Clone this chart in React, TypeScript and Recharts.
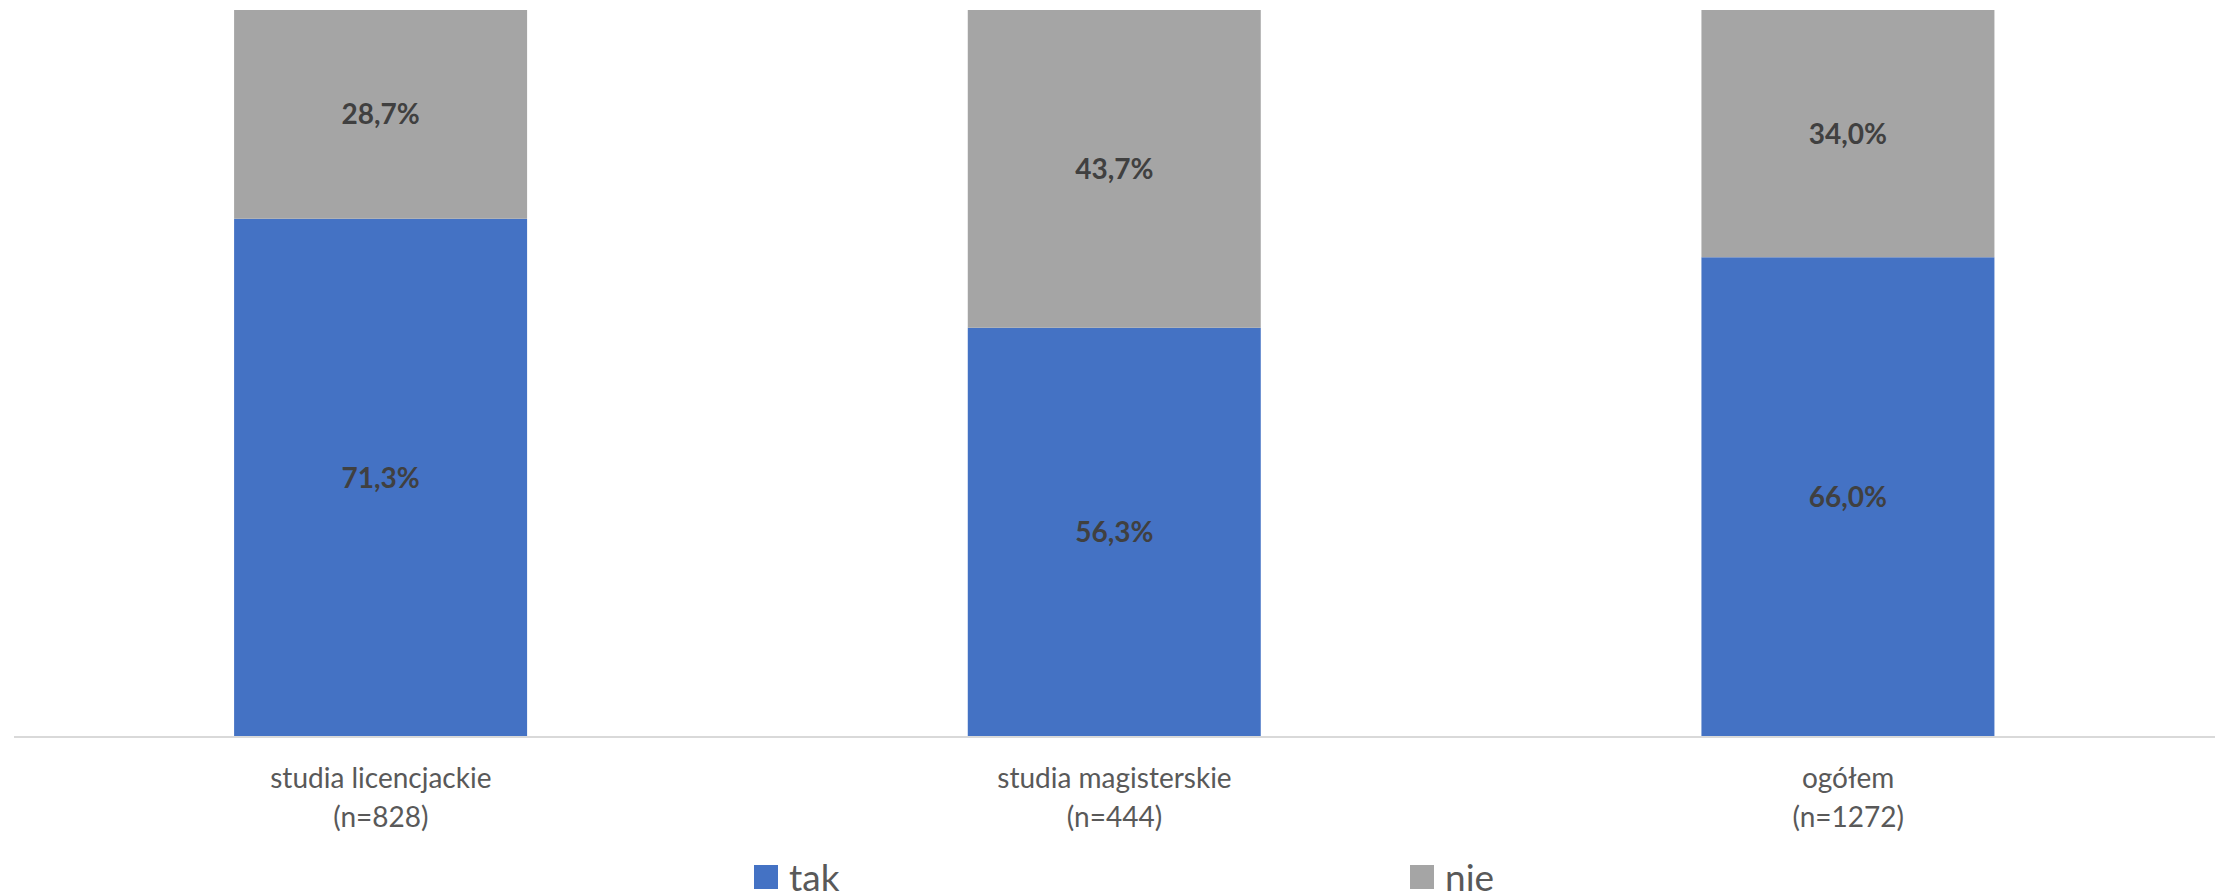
import { Bar, BarChart, LabelList, Legend, XAxis, YAxis } from "recharts";

const categories = ["studia licencjackie", "studia magisterskie", "ogółem"];
const sampleSizes = [828, 444, 1272];
const tak = [71.3, 56.3, 66.0];
const nie = [28.7, 43.7, 34.0];
const seriesOrder = ["tak", "nie"];

const data = categories.map((c, i) => ({
  name: c,
  n: sampleSizes[i],
  tak: tak[i],
  nie: nie[i],
}));

const FONT = "Lato, 'Open Sans', sans-serif";
const fmt = (v: number) => `${v.toFixed(1).replace(".", ",")}%`;

function CategoryTick({ x, y, payload, index }: any) {
  return (
    <text x={x} y={y} textAnchor="middle" fill="#595959" fontSize={28} fontFamily={FONT}>
      <tspan x={x} dy={43}>{payload.value}</tspan>
      <tspan x={x} dy={39}>{`(n=${sampleSizes[index]})`}</tspan>
    </text>
  );
}

// legenda: kolejność tak, nie (stos odwraca ją domyślnie)
function LegendContent({ payload }: any) {
  const items = [...payload].sort(
    (a: any, b: any) => seriesOrder.indexOf(a.value) - seriesOrder.indexOf(b.value)
  );
  return (
    <div style={{ display: "flex", paddingLeft: 740, height: 37, alignItems: "center" }}>
      {items.map((p: any, i: number) => (
        <div key={p.value} style={{ display: "flex", alignItems: "center", width: i === 0 ? 656 : "auto" }}>
          <span style={{ width: 24, height: 24, background: p.color, display: "inline-block", marginRight: 11 }} />
          <span style={{ fontFamily: FONT, fontSize: 37, color: "#595959", lineHeight: "37px" }}>{p.value}</span>
        </div>
      ))}
    </div>
  );
}

export default function App() {
  return (
    <div>
      <style>{`body{margin:0}`}</style>
      <BarChart
        width={2216}
        height={895}
        data={data}
        barCategoryGap="30%"
        margin={{ top: 10, right: 1, bottom: 0, left: 14 }}
      >
        <XAxis
          dataKey="name"
          axisLine={{ stroke: "#D9D9D9", strokeWidth: 2 }}
          tickLine={false}
          height={121}
          interval={0}
          tick={<CategoryTick />}
        />
        <YAxis hide domain={[0, 100]} />
        <Legend verticalAlign="bottom" content={<LegendContent />} />
        <Bar dataKey="tak" name="tak" stackId="a" fill="#4472C4" isAnimationActive={false}>
          <LabelList dataKey="tak" position="center" formatter={fmt} fill="#404040" fontSize={28} fontWeight="bold" fontFamily={FONT} />
        </Bar>
        <Bar dataKey="nie" name="nie" stackId="a" fill="#A5A5A5" isAnimationActive={false}>
          <LabelList dataKey="nie" position="center" formatter={fmt} fill="#404040" fontSize={28} fontWeight="bold" fontFamily={FONT} />
        </Bar>
      </BarChart>
    </div>
  );
}
